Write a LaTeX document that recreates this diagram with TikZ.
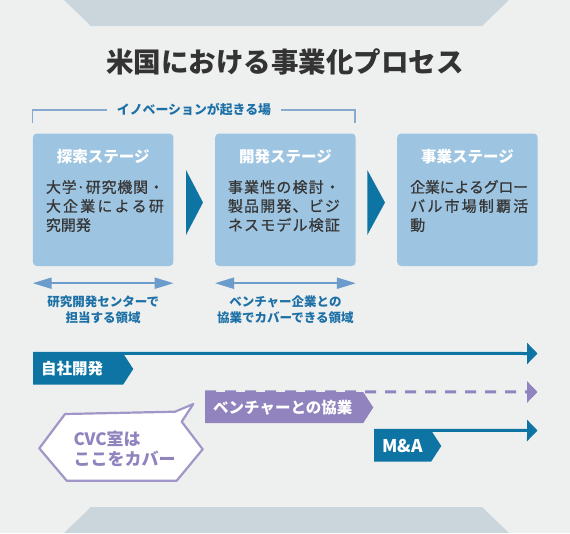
\documentclass[tikz,border=0pt]{standalone}
\usepackage{fontspec}
\setmainfont{Noto Sans CJK JP}
\usepackage{xcolor}
\usepackage{tikz}
\usetikzlibrary{arrows.meta,shapes.symbols}
\definecolor{bgcol}{HTML}{EEF0F0}
\definecolor{trapcol}{HTML}{CAD5DC}
\definecolor{titlecol}{HTML}{333333}
\definecolor{bodycol}{HTML}{363636}
\definecolor{boxcol}{HTML}{9DC4E0}
\definecolor{deepblue}{HTML}{0D74A3}
\definecolor{arrowblue}{HTML}{6B9CCC}
\definecolor{textblue}{HTML}{1D70A6}
\definecolor{linecol}{HTML}{88AAD0}
\definecolor{cvcpurple}{HTML}{9183BE}
\newcommand{\spreadline}[2]{\makebox[#1][s]{\spreadfirst#2\relax}}
\def\spreadfirst#1{#1\spreadrest}
\def\spreadrest#1{\ifx\relax#1\else\hspace{0pt plus 1fil minus 1fil}#1\expandafter\spreadrest\fi}

\begin{document}
\begin{tikzpicture}[x=1pt, y=-1pt,
  every node/.style={inner sep=0pt},
  stagebox/.style={fill=boxcol, rounded corners=4pt, minimum width=140.5pt,
                   minimum height=132.5pt, anchor=north west},
  stagehead/.style={text=white, font=\bfseries\fontsize{15.5pt}{15.5pt}\selectfont},
  stagebody/.style={text=bodycol, align=left, anchor=west,
                    font=\fontsize{15pt}{19pt}\selectfont\addfontfeatures{FakeBold=0.6}},
  rangelabel/.style={text=textblue, align=center,
                     font=\bfseries\fontsize{12.5pt}{15.6pt}\selectfont},
  rangearrow/.style={arrowblue, line width=2pt,
                     {Triangle[length=19pt,width=11pt]}-{Triangle[length=19pt,width=11pt]}},
  flag/.style={shape=signal, signal to=east, signal pointer angle=114, anchor=west,
               minimum height=31pt, inner xsep=8pt, align=left, text=white,
               font=\bfseries\fontsize{15.5pt}{15.5pt}\selectfont},
  flowline/.style={line width=3pt, -{Triangle[length=10.5pt,width=21pt]}},
]
\useasboundingbox (0,0) rectangle (570,533);
\fill[bgcol] (0,0) rectangle (570,533);
\fill[trapcol] (64,0) -- (509,0) -- (482,26) -- (91,26) -- cycle;
\fill[trapcol] (91,507) -- (482,507) -- (509,533) -- (64,533) -- cycle;

\node[text=titlecol, font=\bfseries\fontsize{27.5pt}{27.5pt}\selectfont] (title) at (285,62)
  {米国における事業化プロセス};

% innovation bracket
\draw[linecol, line width=1.5pt] (32.7,123) -- (32.7,110) -- (355,110) -- (355,123);
\node[fill=bgcol, inner xsep=10pt, inner ysep=2pt, text=textblue,
      font=\bfseries\fontsize{12.9pt}{13pt}\selectfont] (innov) at (194,110)
  {イノベーションが起きる場};

% stages
\node[stagebox] (stage1) at (32.7,133.3) {};
\node[stagebox] (stage2) at (215,133.3) {};
\node[stagebox] (stage3) at (397,133.3) {};
\node[stagehead] (head1) at ([shift={(0,23.4)}]stage1.north) {探索ステージ};
\node[stagehead] (head2) at ([shift={(0,23.4)}]stage2.north) {開発ステージ};
\node[stagehead] (head3) at ([shift={(0,23.4)}]stage3.north) {事業ステージ};
\node[stagebody] (body1) at ([shift={(13,72.7)}]stage1.north west)
  {\spreadline{118pt}{大{学·}研究機関・}\\\spreadline{118pt}{大企業による研}\\究開発};
\node[stagebody] (body2) at ([shift={(12.7,72.7)}]stage2.north west)
  {\spreadline{112pt}{事業性の検討・}\\\spreadline{112pt}{製品開発、ビジ}\\\spreadline{112pt}{ネスモデル検証}};
\node[stagebody] (body3) at ([shift={(13,72.7)}]stage3.north west)
  {\spreadline{118pt}{企業によるグロー}\\\spreadline{118pt}{バル市場制覇活}\\動};
\fill[deepblue] (186,170) -- (203,202.5) -- (186,235) -- cycle;
\fill[deepblue] (367.3,170) -- (385,202.5) -- (367.3,235) -- cycle;

% ranges
\draw[rangearrow] ([yshift=-17pt]stage1.south west) -- ([yshift=-17pt]stage1.south east);
\draw[rangearrow] ([yshift=-17pt]stage2.south west) -- ([yshift=-17pt]stage2.south east);
\node[rangelabel] (range1) at ([shift={(0,43.5)}]stage1.south) {研究開発センターで\\担当する領域};
\node[rangelabel] (range2) at ([shift={(0,43.5)}]stage2.south) {ベンチャー企業との\\協業でカバーできる領域};

% routes
\node[flag, fill=deepblue, text width=74pt] (jisha) at (33,369) {自社開発};
\node[flag, fill=cvcpurple, text width=142pt] (venture) at (205,407.5) {ベンチャーとの協業};
\node[flag, fill=deepblue, text width=41pt,
      font=\bfseries\fontsize{17.5pt}{17.5pt}\selectfont] (ma) at (374,446) {M\&A};
\coordinate (jishaend) at (537.5,353.5);
\coordinate (ventureend) at (537.5,392);
\coordinate (maend) at (537.5,430.5);
\draw[flowline, deepblue] (jisha.west |- jisha.north) -- (jishaend);
\draw[flowline, cvcpurple, dash pattern=on 11pt off 9pt] (venture.west |- venture.north) -- (ventureend);
\draw[flowline, deepblue] (ma.west |- ma.north) -- (maend);

% bubble
\draw[cvcpurple!85, line width=2.2pt, line join=round, fill=white]
  (39.3,448.3) -- (65,414) -- (175,411.7) -- (193.3,404) -- (181.7,421.7)
  -- (202.7,449.3) -- (176.7,480.7) -- (66.7,480.7) -- cycle;
\node[text=cvcpurple, align=left, anchor=west,
      font=\bfseries\fontsize{17pt}{20pt}\selectfont] (cvc) at (73.3,448.3)
  {CVC室は\\ここをカバー};
\end{tikzpicture}
\end{document}
